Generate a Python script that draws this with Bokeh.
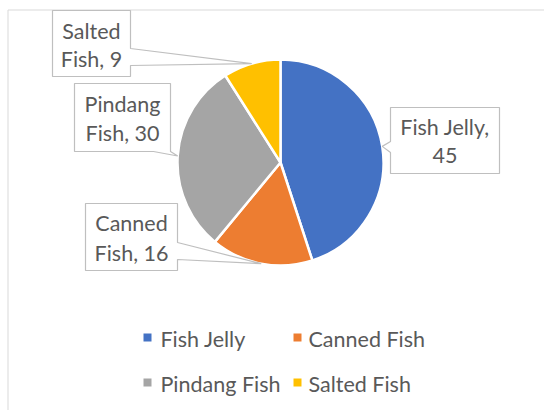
import math
from bokeh.plotting import figure
from bokeh.models import Range1d, ColumnDataSource
from bokeh.core.properties import value
from bokeh.embed import file_html
from bokeh.resources import INLINE

# ---- data ----
categories = ["Fish Jelly", "Canned Fish", "Pindang Fish", "Salted Fish"]
values = [45, 16, 30, 9]
colors = ["#4472C4", "#ED7D31", "#A5A5A5", "#FFC000"]
label_line1 = ["Fish Jelly,", "Canned", "Pindang", "Salted"]
label_line2 = ["45", "Fish, 16", "Fish, 30", "Fish, 9"]

# ---- layout (page pixel coords) ----
W, H = 544, 410
FONT = "Lato"
TXT = "#595959"
FS = "21.5px"
PIE_CX, PIE_CY, PIE_R = 280, 162, 103

def X(px):
    return px

def Y(py):
    return H - py

p = figure(width=W, height=H, output_backend="svg", toolbar_location=None,
           x_range=Range1d(0, W), y_range=Range1d(0, H), min_border=0)
p.axis.visible = False
p.grid.visible = False
p.outline_line_color = None
p.background_fill_color = "white"

# chart frame (right/bottom edges fall outside the visible area)
p.quad(left=[X(7.5)], right=[X(700)], top=[Y(9.5)], bottom=[Y(700)],
       fill_color=None, line_color="#d9d9d9", line_width=1)

# ---- pie ----
total = float(sum(values))
starts, ends, mids = [], [], []
cum = 0.0
for v in values:
    a0 = cum / total
    cum += v
    a1 = cum / total
    starts.append(math.pi / 2 - 2 * math.pi * a0)
    ends.append(math.pi / 2 - 2 * math.pi * a1)
    mids.append(2 * math.pi * (a0 + a1) / 2)  # clockwise from top

src = ColumnDataSource(dict(cat=categories, val=values, color=colors,
                            start=starts, end=ends))
p.wedge(x=X(PIE_CX), y=Y(PIE_CY), radius=PIE_R, start_angle="start",
        end_angle="end", direction="clock", fill_color="color",
        line_color="white", line_width=2.5, source=src)

# ---- callout labels ----
# box (l, t, r, b), pointer side, base range, text line centres
boxes = [
    (390, 107, 499, 173, "left", 141, 152, 126, 155),
    (85, 203, 177, 270, "right", 242, 259, 222, 252),
    (74, 83, 170, 151, "bottom", 153, 170, 103, 132),
    (52, 10, 130, 76, "right", 48, 65, 30, 58),
]

xs_all, ys_all = [], []
tx, ty1, ty2 = [], [], []
for i, (l, t, r, b, side, a0, a1, y1, y2) in enumerate(boxes):
    th = mids[i]
    tipx = PIE_CX + PIE_R * math.sin(th)
    tipy = PIE_CY - PIE_R * math.cos(th)
    if side == "right":
        pts = [(l, t), (r, t), (r, a0), (tipx, tipy), (r, a1), (r, b), (l, b)]
    elif side == "left":
        pts = [(l, t), (r, t), (r, b), (l, b), (l, a1), (tipx, tipy), (l, a0)]
    else:
        pts = [(l, t), (r, t), (r, b), (a1, b), (tipx, tipy), (a0, b), (l, b)]
    xs_all.append([X(px) for px, _ in pts])
    ys_all.append([Y(py) for _, py in pts])
    tx.append(X((l + r) / 2))
    ty1.append(Y(y1))
    ty2.append(Y(y2))

p.patches(xs=xs_all, ys=ys_all, fill_color="white", line_color="#bfbfbf",
          line_width=1.2)
p.text(x=tx, y=ty1, text=label_line1, text_align="center",
       text_baseline="middle", text_font=value(FONT), text_font_size=FS,
       text_color=TXT)
p.text(x=tx, y=ty2, text=label_line2, text_align="center",
       text_baseline="middle", text_font=value(FONT), text_font_size=FS,
       text_color=TXT)

# ---- legend ----
leg_sq_x = [147, 297, 147, 297]
leg_txt_x = [160, 308, 160, 308]
leg_y = [337, 337, 382, 382]
p.scatter(x=[X(v) for v in leg_sq_x], y=[Y(v) for v in leg_y], marker="square",
          size=8, fill_color=colors, line_color=None)
p.text(x=[X(v) for v in leg_txt_x], y=[Y(v + 1) for v in leg_y], text=categories,
       text_align="left", text_baseline="middle", text_font=value(FONT),
       text_font_size=FS, text_color=TXT)

open("out.html", "w").write(file_html(p, INLINE))
